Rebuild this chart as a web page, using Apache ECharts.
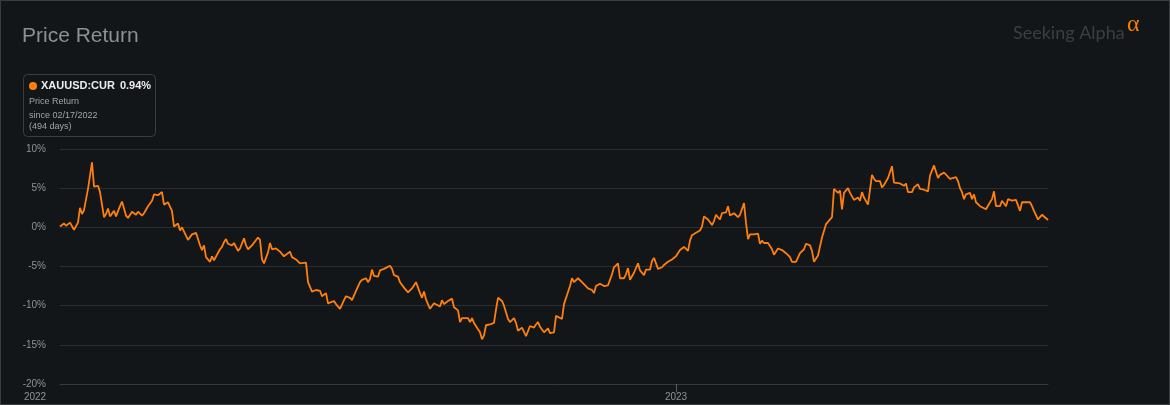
<!DOCTYPE html>
<html>
<head>
<meta charset="utf-8">
<script src="https://cdn.jsdelivr.net/npm/echarts@6/dist/echarts.min.js"></script>
<style>
html,body{margin:0;padding:0;background:#131619;}
#wrap{position:relative;width:1170px;height:405px;}
#chart{position:absolute;left:0;top:0;width:1170px;height:405px;}
#frame{position:absolute;left:0;top:0;width:1170px;height:405px;box-sizing:border-box;border:1px solid #3a3d40;pointer-events:none;}
</style>
</head>
<body>
<div id="wrap"><div id="chart"></div><div id="frame"></div></div>
<script>
// ---- data ----
const startDate = '02/17/2022';
const totalDays = 494;
const ticker = 'XAUUSD:CUR';
const lastReturn = '0.94%';
const yearTickIdx = [0, 308];
const yearTickLabels = ['2022', '2023'];
const yMin = -20, yMax = 10, yStep = 5;

// [day since start, price return %]
const dailyReturns = [
  [0,0.1],[2,0.5],[3,0.2],[5,0.6],[6,0.4],[7,-0.3],[9,0.6],[10,2.5],[11,1.7],[12,2.2],
  [14,4.9],[16,8.3],[17,5.2],[19,5.3],[20,4.5],[22,1.3],[23,1.7],[24,2.4],[25,1.4],[27,2.1],
  [28,1.4],[30,2.7],[31,3.3],[32,3.2],[33,1.5],[34,1.2],[36,2.0],[37,2.2],[38,1.6],[39,2.0],
  [41,1.5],[42,1.8],[44,2.7],[46,3.4],[47,4.2],[49,4.1],[50,4.1],[51,4.5],[52,2.9],[54,3.2],
  [55,3.0],[56,2.1],[57,0.1],[59,0.5],[60,-0.4],[61,0.0],[62,0.0],[64,-1.6],[65,-1.4],[66,-0.9],
  [67,-0.8],[68,-0.7],[70,-2.3],[71,-2.9],[72,-2.3],[73,-3.8],[75,-4.4],[76,-3.7],[77,-4.2],[78,-4.2],
  [80,-2.8],[81,-2.5],[82,-1.9],[83,-1.5],[84,-2.1],[86,-2.3],[87,-2.0],[89,-3.0],[90,-2.7],[92,-1.4],
  [93,-2.3],[94,-2.8],[96,-2.3],[97,-2.5],[99,-1.3],[100,-1.6],[101,-4.1],[102,-4.6],[104,-3.2],[105,-2.0],
  [106,-2.8],[108,-2.7],[110,-3.1],[111,-3.0],[112,-3.7],[115,-3.1],[116,-3.8],[118,-4.1],[120,-4.6],
  [121,-4.4],[123,-4.5],[124,-7.0],[126,-8.2],[128,-8.0],[130,-8.1],[131,-8.8],[133,-8.4],[134,-9.7],[135,-9.9],
  [137,-9.4],[138,-9.8],[139,-9.7],[140,-10.4],[142,-9.3],[143,-8.8],[145,-9.0],[146,-9.3],[148,-8.1],[150,-7.0],
  [151,-6.7],[152,-6.9],[153,-6.5],[154,-7.0],[155,-6.6],[156,-5.4],[157,-6.2],[159,-6.3],[160,-5.5],[162,-5.3],
  [163,-5.4],[165,-4.9],[166,-5.3],[167,-6.1],[169,-6.3],[170,-7.0],[172,-7.7],[173,-7.9],[174,-8.3],[176,-7.8],
  [177,-7.7],[178,-7.0],[180,-8.4],[181,-9.0],[182,-8.2],[183,-9.2],[185,-10.4],[187,-9.7],[188,-9.6],[190,-10.1],
  [191,-9.3],[192,-9.8],[194,-9.4],[195,-9.5],[196,-9.1],[197,-10.2],[199,-10.6],[200,-12.1],[201,-11.6],[202,-11.7],
  [204,-11.6],[205,-12.1],[206,-11.6],[207,-12.2],[209,-13.0],[210,-13.4],[211,-14.3],[212,-13.8],[213,-12.5],[215,-12.4],
  [217,-12.2],[218,-10.5],[219,-9.0],[221,-9.4],[222,-10.0],[224,-11.7],[225,-12.1],[227,-11.6],[228,-12.2],[229,-13.2],
  [231,-12.8],[232,-13.0],[233,-13.9],[234,-13.9],[235,-12.6],[237,-12.8],[238,-12.4],[239,-12.1],[240,-12.7],[242,-13.4],
  [243,-13.5],[244,-12.9],[245,-13.5],[247,-13.4],[248,-11.3],[249,-11.3],[251,-11.7],[252,-9.8],[253,-9.7],[255,-7.5],
  [256,-6.5],[257,-7.0],[259,-6.5],[261,-7.0],[262,-7.0],[264,-7.8],[266,-8.0],[267,-8.4],[268,-7.5],[270,-7.2],
  [272,-7.5],[274,-7.4],[276,-6.0],[277,-5.1],[278,-5.1],[279,-4.6],[280,-6.5],[282,-6.5],[283,-6.0],[284,-5.2],
  [285,-6.7],[287,-5.8],[288,-6.0],[289,-4.6],[290,-5.5],[292,-6.1],[293,-5.4],[295,-5.4],[296,-4.3],[297,-3.9],
  [299,-5.3],[301,-5.1],[302,-4.8],[304,-4.4],[305,-4.4],[306,-4.1],[308,-3.7],[309,-3.6],[310,-2.9],[312,-2.5],
  [313,-2.3],[314,-3.0],[315,-1.7],[316,-1.0],[317,-1.2],[318,-0.7],[320,-0.4],[321,0.1],[322,1.4],[323,1.6],
  [324,1.0],[326,0.3],[327,0.8],[328,1.6],[330,1.0],[331,1.8],[332,2.0],[333,1.9],[334,2.7],[335,1.5],
  [337,1.8],[338,2.0],[339,1.3],[340,1.6],[342,3.1],[343,0.6],[344,-1.5],[345,-0.9],[346,-1.1],[347,-0.9],
  [349,-0.8],[350,-2.1],[351,-1.7],[352,-2.0],[354,-2.0],[356,-2.8],[357,-3.5],[359,-2.7],[361,-2.9],[363,-3.3],
  [365,-3.8],[366,-4.4],[368,-4.4],[370,-3.3],[372,-2.8],[373,-2.1],[375,-2.3],[376,-3.0],[377,-4.4],[378,-4.3],
  [379,-3.6],[381,-1.3],[383,0.4],[384,0.5],[386,1.3],[387,4.9],[389,4.4],[390,4.7],[391,2.3],[392,4.4],
  [394,5.0],[395,4.4],[396,4.2],[397,3.5],[399,3.8],[400,3.4],[401,4.5],[402,3.8],[404,2.9],[406,6.7],
  [407,6.2],[408,5.9],[410,5.9],[411,5.1],[412,5.4],[414,6.3],[415,6.5],[416,7.8],[417,5.7],[418,5.7],
  [420,5.6],[421,5.7],[422,5.3],[423,5.6],[424,4.5],[426,4.5],[427,5.1],[429,5.5],[430,4.9],[432,4.8],
  [434,4.6],[435,6.6],[437,7.9],[438,8.1],[439,6.3],[440,6.7],[442,7.0],[443,7.2],[445,6.2],[446,6.2],
  [448,6.4],[449,5.9],[450,5.0],[451,4.5],[452,3.6],[453,4.2],[455,4.4],[456,3.6],[457,4.2],[458,3.2],
  [460,2.7],[461,2.7],[463,2.3],[465,3.2],[466,3.6],[467,4.6],[468,2.7],[470,2.7],[471,3.4],[472,3.6],
  [473,2.7],[474,3.6],[476,3.4],[477,3.4],[478,3.5],[480,2.1],[481,3.2],[483,3.2],[485,3.2],[486,2.7],
  [487,2.1],[488,1.9],[489,1.0],[490,1.3],[491,1.6],[492,1.8],[494,0.94]
];

// ---- chart ----
const slots = [];
for (let i = 0; i <= totalDays; i++) slots.push(String(i));

const FONT = '"Liberation Sans", Arial, sans-serif';
const ORANGE = '#ff7f0e';
const LABEL = '#8e9297';

const chart = echarts.init(document.getElementById('chart'), null, {renderer: 'canvas'});
chart.setOption({
  backgroundColor: '#131619',
  animation: false,
  textStyle: {fontFamily: FONT},
  title: [
    {
      text: 'Price Return', left: 22, top: 26, padding: 0,
      textStyle: {color: '#8b9095', fontSize: 21, fontWeight: 'normal', fontFamily: FONT}
    },
    {
      left: 23, top: 73, padding: [6, 5, 5, 6],
      borderColor: '#393c40', borderWidth: 1, borderRadius: 4,
      text: '{dot| }{name|' + ticker + '}{val|' + lastReturn + '}\n{s1|Price Return}\n{s2|since ' + startDate + '}\n{s2|(' + totalDays + ' days)}',
      textStyle: {
        fontFamily: FONT, fontWeight: 'normal',
        rich: {
          dot: {width: 8, height: 8, borderRadius: 4, backgroundColor: ORANGE, fontSize: 1, lineHeight: 14},
          name: {fontFamily: FONT, fontSize: 11, fontWeight: 'bold', color: '#ececec', padding: [0, 0, 0, 4], lineHeight: 14},
          val: {fontFamily: FONT, fontSize: 11, fontWeight: 'bold', color: '#ececec', padding: [0, 0, 0, 5], lineHeight: 14},
          s1: {fontFamily: FONT, fontSize: 9, fontWeight: 'normal', color: '#a0a4a8', lineHeight: 17},
          s2: {fontFamily: FONT, fontSize: 9, fontWeight: 'normal', color: '#a0a4a8', lineHeight: 11.3}
        }
      }
    },
    {
      text: 'Seeking Alpha', left: 1013, top: 24, padding: 0,
      textStyle: {color: '#3b3e42', fontSize: 18, fontWeight: 'normal', fontFamily: 'Lato, "Open Sans", sans-serif'}
    },
    {
      text: 'α', left: 1127, top: 13, padding: 0,
      textStyle: {color: '#f57c00', fontSize: 24, fontWeight: 'normal', fontFamily: '"Liberation Serif", "DejaVu Serif", serif'}
    }
  ],
  grid: {left: 60, right: 122, top: 149, bottom: 21, containLabel: false},
  xAxis: {
    type: 'category',
    data: slots,
    boundaryGap: false,
    axisLine: {show: true, onZero: false, lineStyle: {color: '#36393d', width: 1}},
    axisTick: {
      show: true, length: 8,
      interval: (i) => i === yearTickIdx[1],
      lineStyle: {color: '#5a5e62'}
    },
    axisLabel: {
      interval: (i) => yearTickIdx.indexOf(i) >= 0,
      formatter: (v, i) => {
        const k = yearTickIdx.indexOf(i);
        if (k < 0) return '';
        return k === 0 ? '{first|' + yearTickLabels[k] + '}' : yearTickLabels[k];
      },
      color: LABEL, fontSize: 10, margin: 8, fontFamily: FONT,
      rich: {first: {color: LABEL, fontSize: 10, fontFamily: FONT, padding: [0, 50, 0, 0]}}
    },
    splitLine: {show: false}
  },
  yAxis: {
    type: 'value', min: yMin, max: yMax, interval: yStep,
    axisLabel: {formatter: '{value}%', color: LABEL, fontSize: 10, margin: 14, fontFamily: FONT},
    axisLine: {show: false},
    axisTick: {show: false},
    splitLine: {lineStyle: {color: '#2a2d31', width: 1}}
  },
  series: [{
    type: 'line',
    name: ticker,
    data: dailyReturns,
    showSymbol: false,
    symbol: 'none',
    sampling: null,
    lineStyle: {color: ORANGE, width: 1.8},
    itemStyle: {color: ORANGE},
    z: 3
  }]
});
</script>
</body>
</html>
